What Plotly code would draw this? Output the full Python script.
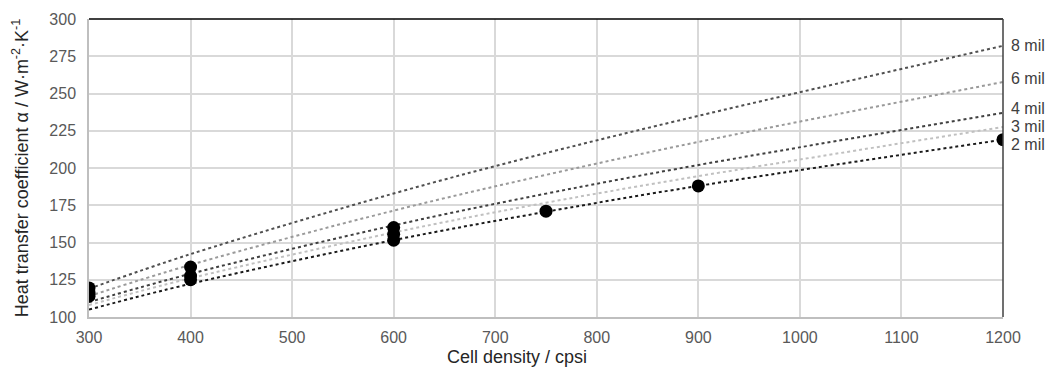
import plotly.graph_objects as go

# Trendline values at these cell densities
line_x = [300, 400, 600, 750, 900, 1200]
line_8mil = [119, 142.2, 182.9, 210, 235, 282]
line_6mil = [114, 135, 171.4, 195.4, 217.5, 257.7]
line_4mil = [110, 129, 161.5, 182.8, 202, 237]
line_3mil = [108, 126, 156.7, 176.7, 194.5, 227.5]
line_2mil = [105, 122.3, 151.6, 170.6, 188, 219]

# Measured points
pts_x = [300, 300, 300, 400, 400, 400, 600, 600, 600, 750, 900, 1200]
pts_y = [119.5, 116.5, 114, 133.5, 127.5, 125, 160, 155.5, 151.5, 171, 188, 219]

labels = ["8 mil", "6 mil", "4 mil", "3 mil", "2 mil"]
label_y = [282, 260, 240, 228, 216]

series = [line_8mil, line_6mil, line_4mil, line_3mil, line_2mil]
colors = ["#505050", "#9a9a9a", "#404040", "#c0c0c0", "#1a1a1a"]

FONT = "Liberation Sans, Arial, sans-serif"

fig = go.Figure()
for ys, c, name in zip(series, colors, labels):
    fig.add_trace(go.Scatter(x=line_x, y=ys, mode="lines", name=name,
                             line=dict(color=c, width=2, dash="dot", shape="spline"),
                             showlegend=False, hoverinfo="skip"))

fig.add_trace(go.Scatter(x=pts_x, y=pts_y, mode="markers",
                         marker=dict(color="black", size=13), showlegend=False))

for lab, ly in zip(labels, label_y):
    fig.add_annotation(x=1, xref="paper", y=ly, yref="y", text=lab, showarrow=False,
                       xanchor="left", xshift=6, font=dict(family=FONT, size=16, color="#404040"))

# x-axis title (slightly left of centre, as in the reference)
fig.add_annotation(x=0.468, xref="paper", y=0, yref="paper", yanchor="middle",
                   yshift=-40, text="Cell density / cpsi", showarrow=False,
                   font=dict(family=FONT, size=18, color="#262626"))

# top and right border
fig.add_shape(type="line", xref="paper", yref="paper", x0=0, x1=1, y0=1, y1=1,
              line=dict(color="black", width=1.5))
fig.add_shape(type="line", xref="paper", yref="paper", x0=1, x1=1, y0=0, y1=1,
              line=dict(color="#404040", width=1.5))

axis_font = dict(family=FONT, size=16, color="#595959")
fig.update_xaxes(range=[300, 1200], dtick=100, showgrid=True, gridcolor="#d9d9d9",
                 gridwidth=1.5, showline=True, linecolor="#bfbfbf", linewidth=1.5,
                 zeroline=False, tickfont=axis_font, ticks="", ticklabelstandoff=5,
                 automargin=False)
fig.update_yaxes(range=[100, 300], dtick=25, showgrid=True, gridcolor="#d9d9d9",
                 gridwidth=1.5, showline=True, linecolor="#bfbfbf", linewidth=1.5,
                 zeroline=False, tickfont=axis_font, ticks="", ticklabelstandoff=8,
                 automargin=False,
                 title=dict(text="Heat transfer coefficient α / W·m<sup>-2</sup>·K<sup>-1</sup>",
                            font=dict(family=FONT, size=18, color="#262626"),
                            standoff=16))

fig.update_layout(width=1051, height=374, margin=dict(l=89, r=48, t=19, b=57),
                  plot_bgcolor="white", paper_bgcolor="white")

fig.write_html("out.html")
